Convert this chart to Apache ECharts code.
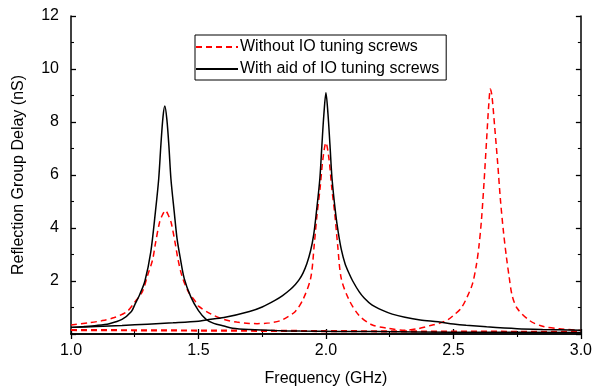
<!DOCTYPE html>
<html>
<head>
<meta charset="utf-8">
<script src="https://cdn.jsdelivr.net/npm/echarts@6/dist/echarts.min.js"></script>
<style>
  html, body { margin: 0; padding: 0; background: #fff; }
  #chart { width: 595px; height: 392px; }
</style>
</head>
<body>
<div id="chart"></div>
<script>
// 曲线数据
const legendNames = ['Without IO tuning screws', 'With aid of IO tuning screws'];

// red dashed, three resonances in one trace
const freqRed = [1.00, 1.07, 1.12, 1.17, 1.22, 1.25, 1.28, 1.30, 1.32, 1.33, 1.347, 1.359, 1.37, 1.381, 1.393, 1.41, 1.42, 1.435, 1.46, 1.49, 1.50, 1.55, 1.60, 1.65, 1.70, 1.73, 1.78, 1.82, 1.85, 1.88, 1.91, 1.94, 1.954, 1.965, 1.977, 1.988, 2.00, 2.012, 2.023, 2.035, 2.046, 2.06, 2.09, 2.13, 2.18, 2.24, 2.31, 2.36, 2.41, 2.45, 2.48, 2.50, 2.53, 2.555, 2.575, 2.59, 2.60, 2.61, 2.62, 2.63, 2.639, 2.645, 2.651, 2.662, 2.674, 2.685, 2.697, 2.708, 2.718, 2.73, 2.75, 2.80, 2.85, 2.915, 3.00];
const delayRed = [0.34, 0.42, 0.50, 0.62, 0.85, 1.2, 1.6, 2.2, 2.8, 3.35, 4.2, 4.5, 4.66, 4.5, 4.2, 3.35, 2.8, 2.2, 1.6, 1.2, 1.05, 0.75, 0.55, 0.45, 0.40, 0.39, 0.42, 0.5, 0.65, 0.85, 1.3, 2.1, 3.35, 4.5, 5.5, 6.6, 7.22, 6.6, 5.5, 4.5, 3.35, 2.1, 1.3, 0.7, 0.35, 0.22, 0.14, 0.2, 0.32, 0.42, 0.55, 0.7, 0.97, 1.42, 1.9, 2.6, 3.3, 4.3, 5.7, 7.3, 8.7, 9.25, 9.0, 7.8, 6.4, 5.0, 3.8, 2.9, 2.2, 1.47, 0.97, 0.5, 0.29, 0.2, 0.13];

// red dashed, flat trace near the bottom
const freqRedBase = [1.0, 1.5, 2.0, 2.5, 3.0];
const delayRedBase = [0.15, 0.13, 0.11, 0.09, 0.08];

// black, first resonance
const freqBlack1 = [1.00, 1.05, 1.10, 1.15, 1.20, 1.237, 1.25, 1.27, 1.29, 1.313, 1.331, 1.344, 1.353, 1.361, 1.368, 1.376, 1.384, 1.392, 1.405, 1.416, 1.428, 1.444, 1.47, 1.50, 1.53, 1.56, 1.60, 1.634, 1.70, 1.80, 1.90, 2.20, 2.50, 3.00];
const delayBlack1 = [0.25, 0.28, 0.32, 0.39, 0.55, 0.85, 1.1, 1.5, 2.0, 3.1, 4.6, 5.85, 7.2, 8.2, 8.6, 8.1, 7.1, 5.85, 4.6, 3.6, 2.9, 2.1, 1.4, 0.88, 0.55, 0.4, 0.3, 0.22, 0.17, 0.13, 0.11, 0.09, 0.07, 0.06];

// black, second resonance
const freqBlack2 = [1.00, 1.10, 1.20, 1.30, 1.40, 1.50, 1.53, 1.60, 1.70, 1.75, 1.80, 1.83, 1.86, 1.88, 1.895, 1.91, 1.925, 1.94, 1.952, 1.962, 1.976, 1.984, 1.992, 2.00, 2.008, 2.016, 2.024, 2.038, 2.048, 2.06, 2.075, 2.09, 2.105, 2.13, 2.15, 2.18, 2.22, 2.26, 2.31, 2.37, 2.44, 2.50, 2.55, 2.63, 2.75, 2.85, 3.00];
const delayBlack2 = [0.25, 0.28, 0.32, 0.37, 0.42, 0.48, 0.53, 0.62, 0.85, 1.02, 1.27, 1.45, 1.68, 1.87, 2.05, 2.3, 2.65, 3.15, 3.75, 4.55, 5.85, 7.1, 8.3, 9.1, 8.3, 7.1, 5.85, 4.55, 3.85, 3.2, 2.65, 2.3, 2.0, 1.6, 1.36, 1.1, 0.9, 0.75, 0.63, 0.53, 0.46, 0.38, 0.33, 0.27, 0.2, 0.17, 0.14];

const xTicks = [1.0, 1.5, 2.0, 2.5, 3.0];
const yTicks = [2, 4, 6, 8, 10, 12];

function pairs(xs, ys) {
    return xs.map(function (x, i) { return [x, ys[i]]; });
}

(function () {
    let myChart = echarts.init(document.getElementById('chart'));
    let font = 'Liberation Sans, Arial, sans-serif';
    let axisLine = { show: true, lineStyle: { color: '#000', width: 1.5 } };
    let tick = { show: true, inside: true, length: 5, lineStyle: { color: '#000', width: 1.3 } };
    let minor = { show: true, splitNumber: 2, length: 3, lineStyle: { color: '#000', width: 1.1 } };
    let redDash = { color: '#ff0000', width: 1.5, type: [6, 4] };
    let blackLine = { color: '#000', width: 1.5 };

    let option = {
        animation: false,
        grid: { left: 71, right: 10, top: 16, bottom: 56 },
        legend: {
            data: legendNames,
            orient: 'vertical',
            left: 195,
            top: 35,
            itemWidth: 42,
            itemHeight: 12,
            itemGap: 6,
            padding: [4, 7, 3, 0],
            borderColor: '#000',
            borderWidth: 1,
            itemStyle: { opacity: 0 },
            textStyle: { fontFamily: font, fontSize: 16, color: '#000', padding: [0, 0, 0, -3] }
        },
        xAxis: [{
            type: 'value',
            min: 1, max: 3, interval: 0.5,
            name: 'Frequency (GHz)',
            nameLocation: 'middle',
            nameGap: 37,
            nameTextStyle: { fontFamily: font, fontSize: 16, color: '#000' },
            axisLine: axisLine,
            axisTick: tick,
            minorTick: minor,
            splitLine: { show: false },
            axisLabel: {
                fontFamily: font, fontSize: 16, color: '#000', margin: 9,
                formatter: function (v) { return xTicks.indexOf(v) >= 0 ? v.toFixed(1) : ''; }
            }
        }, {
            type: 'value', position: 'top',
            min: 1, max: 3, interval: 0.5,
            axisLine: axisLine, axisTick: tick, minorTick: minor,
            splitLine: { show: false }, axisLabel: { show: false }
        }],
        yAxis: [{
            type: 'value',
            min: 0, max: 12, interval: 2,
            name: 'Reflection Group Delay (nS)',
            nameLocation: 'middle',
            nameGap: 44,
            nameTextStyle: { fontFamily: font, fontSize: 16, color: '#000' },
            axisLine: axisLine,
            axisTick: tick,
            minorTick: minor,
            splitLine: { show: false },
            axisLabel: {
                fontFamily: font, fontSize: 16, color: '#000', margin: 12,
                formatter: function (v) { return yTicks.indexOf(v) >= 0 ? String(v) : ''; }
            }
        }, {
            type: 'value', position: 'right',
            min: 0, max: 12, interval: 2,
            axisLine: axisLine, axisTick: tick, minorTick: minor,
            splitLine: { show: false }, axisLabel: { show: false }
        }],
        series: [
            {
                name: legendNames[0], type: 'line', showSymbol: false, symbol: 'none', smooth: 0.3,
                lineStyle: redDash, itemStyle: { color: '#ff0000' },
                data: pairs(freqRed, delayRed)
            },
            {
                name: legendNames[0], type: 'line', showSymbol: false, symbol: 'none',
                lineStyle: { color: '#ff0000', width: 2.2, type: [6, 4] }, itemStyle: { color: '#ff0000' },
                data: pairs(freqRedBase, delayRedBase)
            },
            {
                name: legendNames[1], type: 'line', showSymbol: false, symbol: 'none', smooth: 0.3,
                lineStyle: blackLine, itemStyle: { color: '#000' },
                data: pairs(freqBlack1, delayBlack1)
            },
            {
                name: legendNames[1], type: 'line', showSymbol: false, symbol: 'none', smooth: 0.3,
                lineStyle: blackLine, itemStyle: { color: '#000' },
                data: pairs(freqBlack2, delayBlack2)
            }
        ]
    };
    myChart.setOption(option);
    window.addEventListener('resize', function () {
        myChart.resize()
    })
})();
</script>
</body>
</html>
